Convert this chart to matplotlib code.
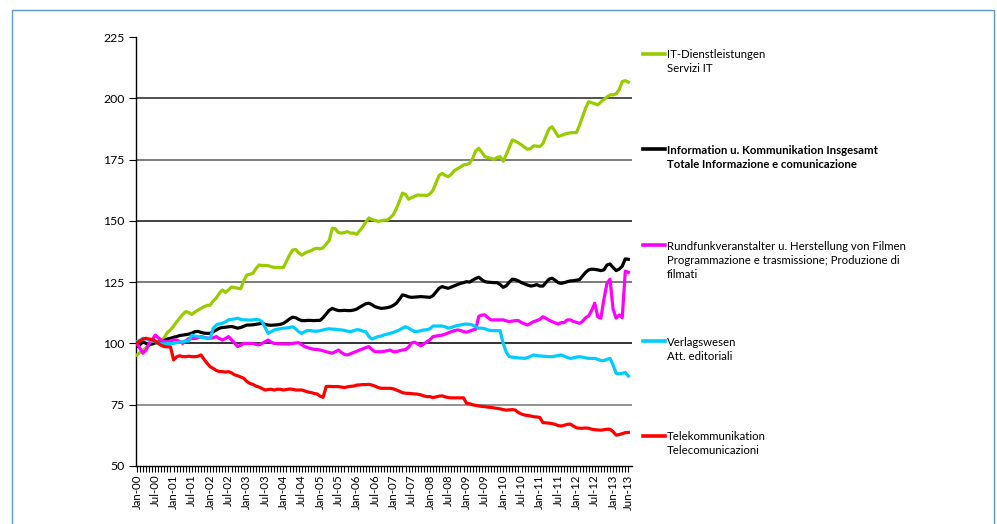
import matplotlib
matplotlib.use("Agg")
import matplotlib.pyplot as plt
from matplotlib.patches import Rectangle
from matplotlib.ticker import MultipleLocator
import pandas as pd

plt.rcParams['font.family'] = ['Lato', 'DejaVu Sans']

# monthly index values, Jan 2000 .. Jun 2013
months = pd.date_range('2000-01-01', '2013-06-01', freq='MS')
month_labels = [m.strftime('%b-%y') for m in months]

it_services = [
    95.3, 96.3, 97.3, 98.3, 99.2, 99.8, 100.3, 100.8, 101.2, 102.5, 104.5, 105.5,
    107.0, 108.8, 110.3, 111.8, 113.0, 112.6, 111.8, 112.8, 113.6, 114.3, 115.0, 115.5,
    115.6, 117.3, 118.5, 120.5, 121.8, 120.8, 121.8, 123.0, 122.8, 122.5, 122.3, 125.5,
    127.9, 128.2, 128.6, 130.5, 132.0, 131.8, 131.8, 131.7, 131.3, 131.0, 131.0, 131.0,
    131.0, 133.5, 136.0, 138.1, 138.3, 137.0, 136.0, 136.8, 137.4, 137.8, 138.5, 138.8,
    138.6, 139.0, 140.5, 142.0, 147.0, 146.8, 145.2, 145.0, 145.2, 145.6, 145.0, 145.0,
    144.5, 146.0, 147.5, 149.5, 151.2, 150.5, 150.2, 149.8, 150.0, 150.3, 150.3, 151.3,
    152.5, 155.0, 158.0, 161.3, 160.8, 158.8, 159.5, 160.0, 160.6, 160.4, 160.5, 160.3,
    161.0, 162.5, 165.5, 168.5, 169.4, 168.5, 168.0, 169.0, 170.5, 171.2, 172.0, 172.8,
    173.0, 173.5, 175.5, 178.5, 179.6, 178.0, 176.2, 175.8, 175.5, 175.1, 175.8, 176.2,
    174.3, 177.0, 180.0, 183.0, 182.5, 181.8, 181.0, 180.0, 179.2, 179.5, 180.6, 180.5,
    180.3, 181.5, 184.5, 187.5, 188.4, 186.5, 184.4, 184.8, 185.3, 185.7, 185.9, 186.0,
    186.0, 189.0, 192.5, 196.0, 198.6, 198.2, 197.8, 197.3, 198.5, 199.5, 200.5, 201.4,
    201.4, 201.8, 203.5, 206.8, 207.2, 206.6,
]

ict_total = [
    98.7, 99.5, 100.7, 100.0, 99.5, 99.8, 100.2, 100.5, 100.8, 101.2, 101.8, 102.1,
    102.5, 102.8, 103.2, 103.4, 103.6, 103.8, 104.2, 104.8, 104.9, 104.5, 104.2, 104.1,
    104.1, 104.8, 105.5, 106.2, 106.5, 106.6, 106.8, 106.9, 106.6, 106.2, 106.5, 107.0,
    107.5, 107.5, 107.6, 107.8, 108.0, 108.2, 107.8, 107.5, 107.4, 107.5, 107.6, 107.8,
    108.2, 109.0, 110.0, 110.7, 110.5, 109.8, 109.3, 109.3, 109.4, 109.4, 109.3, 109.4,
    109.4, 110.5, 112.0, 113.5, 114.3, 113.8, 113.4, 113.4, 113.5, 113.4, 113.4, 113.6,
    114.0, 114.8, 115.5, 116.2, 116.4, 115.8, 115.0, 114.6, 114.3, 114.4, 114.6, 114.9,
    115.5, 116.4, 118.0, 119.8, 119.5, 119.0, 118.8, 118.9, 119.0, 119.1, 119.0, 118.9,
    118.8, 119.5, 121.0, 122.5, 123.2, 122.8, 122.5, 123.0, 123.5, 124.0, 124.5, 124.8,
    125.2, 125.0, 125.8, 126.5, 127.0, 126.0, 125.2, 125.0, 124.9, 124.8, 124.8, 124.0,
    122.9, 123.5, 125.0, 126.2, 126.0, 125.5, 124.8, 124.3, 123.8, 123.4, 123.6, 124.0,
    123.4, 123.4, 124.8, 126.2, 126.6, 125.8, 124.8, 124.5, 124.8, 125.2, 125.5, 125.6,
    125.8, 126.0, 127.5, 129.0, 130.0, 130.3, 130.2, 130.0, 129.7, 130.0, 132.0, 132.4,
    131.0, 129.7, 130.3, 131.5, 134.5, 134.3,
]

broadcasting = [
    100.0, 98.0, 96.0, 97.3, 100.0, 101.5, 103.4, 102.3, 101.4, 100.8, 100.7, 101.0,
    101.4, 101.4, 100.8, 100.0, 101.0, 102.0, 102.0, 102.0, 102.3, 102.8, 102.5, 102.2,
    102.1, 102.3, 102.8, 102.0, 101.4, 102.0, 102.8, 101.5, 100.2, 98.7, 99.3, 100.0,
    100.0, 100.0, 100.0, 99.6, 99.4, 100.0, 100.7, 101.4, 100.5, 100.0, 99.9, 99.8,
    99.8, 99.8, 99.8, 100.0, 100.2, 100.3, 99.5, 98.7, 98.3, 97.9, 97.6, 97.6,
    97.3, 97.0, 96.6, 96.3, 96.0, 96.6, 97.3, 96.3, 95.5, 95.3, 95.8, 96.3,
    96.8, 97.3, 97.8, 98.3, 98.7, 97.5, 96.6, 96.6, 96.6, 96.8, 97.0, 97.3,
    96.6, 96.6, 97.0, 97.3, 97.5, 98.5, 100.2, 100.5, 99.8, 99.0, 99.8, 100.7,
    101.5, 102.8, 103.0, 103.2, 103.4, 103.8, 104.3, 104.8, 105.2, 105.5, 105.3, 104.8,
    104.6, 105.0, 105.5, 105.8, 111.0, 111.6, 111.6, 110.5, 109.6, 109.6, 109.6, 109.6,
    109.6, 109.2, 108.9, 109.1, 109.3, 109.3, 108.5, 108.0, 107.5, 108.2, 108.9, 109.3,
    109.8, 110.9, 110.3, 109.5, 108.9, 108.4, 107.9, 108.5, 108.5, 109.6, 109.6, 109.0,
    108.6, 108.2, 109.0, 110.5, 111.2, 113.5, 116.4, 110.8, 110.3, 118.0, 124.5, 126.2,
    114.0, 110.3, 111.6, 110.5, 129.5, 129.0,
]

publishing = [
    100.7, 101.3, 102.1, 101.8, 101.4, 101.0, 100.7, 100.3, 100.0, 99.8, 100.0, 100.0,
    100.0, 100.3, 100.5, 100.7, 101.0, 101.0, 103.4, 103.0, 102.8, 102.5, 102.3, 102.1,
    102.1, 106.2, 107.5, 108.0, 108.2, 108.8, 109.6, 109.8, 110.0, 110.3, 109.8, 109.6,
    109.6, 109.5, 109.6, 109.8, 109.6, 108.9, 106.5, 104.1, 104.8, 105.5, 105.8, 106.0,
    106.2, 106.3, 106.5, 106.8, 106.0, 104.8, 104.1, 104.8, 105.3, 105.2, 105.0, 105.0,
    105.2, 105.5, 105.8, 106.0, 105.8, 105.8, 105.6, 105.5, 105.3, 105.0, 104.8, 105.2,
    105.6, 105.5, 105.0, 104.8, 102.8, 101.8, 102.3, 102.8, 103.0, 103.5, 103.8, 104.1,
    104.5, 105.0, 105.5, 106.2, 106.8, 106.3, 105.5, 104.8, 104.9, 105.2, 105.5, 105.6,
    106.0, 107.1, 107.1, 107.1, 107.1, 106.8, 106.2, 106.5, 107.0, 107.3, 107.5, 107.8,
    107.9, 107.8, 107.5, 106.8, 106.2, 106.2, 106.0, 105.5, 105.3, 105.2, 105.2, 105.2,
    100.0, 96.5, 94.6, 94.4, 94.2, 94.1, 94.0, 93.9, 94.2, 94.8, 95.3, 95.0,
    94.9, 94.8, 94.7, 94.6, 94.6, 94.8, 95.1, 95.3, 94.8, 94.3, 93.9, 94.1,
    94.4, 94.6, 94.4, 94.1, 93.9, 93.9, 93.9, 93.5, 93.0, 93.0, 93.5, 93.9,
    91.2, 87.8, 87.6, 87.8, 88.1, 86.7,
]

telecom = [
    100.3, 101.0, 101.8, 102.1, 101.8, 101.5, 101.0, 100.0, 99.2, 98.7, 98.6, 98.6,
    93.3, 94.5, 95.0, 94.6, 94.6, 94.8, 94.6, 94.6, 94.8, 95.3, 93.5, 91.9,
    90.5, 89.8, 89.0, 88.5, 88.5, 88.3, 88.5, 88.0, 87.2, 86.8, 86.3, 85.8,
    84.5, 83.7, 83.3, 82.6, 82.2, 81.6, 81.0, 81.2, 81.3, 81.0, 81.3, 81.3,
    81.0, 81.2, 81.4, 81.3, 81.0, 81.0, 81.0, 80.6, 80.2, 80.0, 79.6, 79.4,
    78.5, 78.0, 82.4, 82.5, 82.4, 82.4, 82.4, 82.2, 82.0, 82.3, 82.5, 82.6,
    83.0, 83.1, 83.2, 83.2, 83.3, 83.0, 82.6, 82.0, 81.7, 81.7, 81.7, 81.7,
    81.5, 81.0, 80.5, 79.9, 79.7, 79.6, 79.5, 79.4, 79.3, 79.0, 78.6, 78.3,
    78.3, 77.9, 78.2, 78.5, 78.6, 78.2, 77.9, 77.8, 77.8, 77.8, 77.8, 77.8,
    75.6, 75.4, 75.0, 74.7, 74.5, 74.3, 74.2, 74.0, 73.9, 73.7, 73.5, 73.3,
    73.0, 72.8, 72.9, 73.0, 72.8, 71.8, 71.2, 70.8, 70.6, 70.4, 70.1, 70.0,
    69.8, 67.7, 67.6, 67.5, 67.3, 67.0, 66.5, 66.3, 66.6, 67.0, 67.1, 66.3,
    65.6, 65.4, 65.4, 65.5, 65.4, 65.0, 64.8, 64.7, 64.6, 64.8, 65.0, 65.0,
    64.0, 62.6, 62.8, 63.2, 63.6, 63.7,
]

series_names = [
    ('IT-Dienstleistungen', 'Servizi IT'),
    ('Information u. Kommunikation Insgesamt', 'Totale Informazione e comunicazione'),
    ('Rundfunkveranstalter u. Herstellung von Filmen',
     'Programmazione e trasmissione; Produzione di', 'filmati'),
    ('Verlagswesen', 'Att. editoriali'),
    ('Telekommunikation', 'Telecomunicazioni'),
]
series_values = [it_services, ict_total, broadcasting, publishing, telecom]
series_colors = ['#99cc00', '#000000', '#ff00ff', '#00ccff', '#ff0000']
legend_y = [54, 149, 245, 341, 436]  # pixel rows of the legend keys

W, H = 997, 524
fig = plt.figure(figsize=(W / 100, H / 100), dpi=100)
ax = fig.add_axes([136 / W, 1 - 466 / H, 496 / W, 429 / H])

x = list(range(len(months)))
draw_order = [0, 2, 3, 4, 1]
for k in draw_order:
    ax.plot(x, series_values[k], color=series_colors[k], lw=2.3,
            solid_joinstyle='round', zorder=3 + k)

ax.set_ylim(50, 225)
ax.set_xlim(-0.3, 162.2)
ax.yaxis.set_major_locator(MultipleLocator(25))
grid_cols = {75: '#808080', 100: '#111111', 125: '#666666', 150: '#222222',
             175: '#666666', 200: '#333333'}
for v, c in grid_cols.items():
    ax.axhline(v, color=c, lw=1.2, zorder=1)

tick_pos = list(range(0, len(months), 6)) + [len(months) - 1]
ax.set_xticks(tick_pos)
ax.set_xticklabels([month_labels[i] for i in tick_pos], rotation=90, fontsize=8.3)
ax.set_xticks(x, minor=True)
ax.tick_params(axis='x', which='both', direction='out', length=4, width=0.8, pad=2)
ax.tick_params(axis='y', direction='out', length=5, width=0.8, labelsize=8.8, pad=3)

for s in ['top', 'right']:
    ax.spines[s].set_visible(False)
for s in ['left', 'bottom']:
    ax.spines[s].set_linewidth(1.0)

# legend drawn by hand on the right
for k, names in enumerate(series_names):
    yf = 1 - legend_y[k] / H
    fig.add_artist(plt.Line2D([643 / W, 665 / W], [yf, yf],
                              color=series_colors[k], lw=2.6))
    for j, line in enumerate(names):
        fig.text(667 / W, 1 - (legend_y[k] + 1 + j * 14) / H, line,
                 fontsize=8.2, va='center', ha='left',
                 weight='bold' if k == 1 else 'normal')

# outer frame
fig.add_artist(Rectangle((12 / W, -0.05), (994 - 12) / W, 1.05 - 10 / H,
                         transform=fig.transFigure, fill=False,
                         edgecolor='#5b9bd5', lw=1.0, clip_on=False))

fig.savefig('out.png', dpi=100)
